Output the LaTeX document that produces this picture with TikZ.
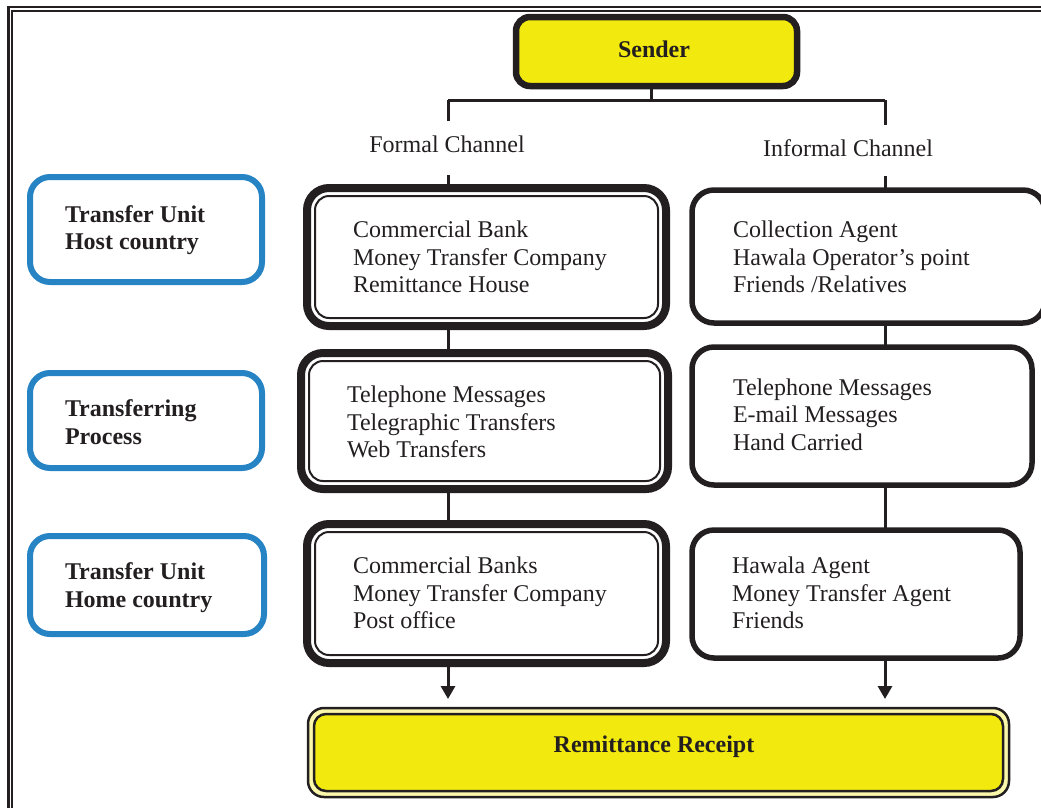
\documentclass[tikz,border=0pt]{standalone}
\usepackage{fontspec}
\setmainfont{Liberation Serif}
\usetikzlibrary{arrows.meta}
\definecolor{ink}{RGB}{35,31,32}
\definecolor{yel}{RGB}{242,233,14}
\definecolor{blu}{RGB}{38,131,196}
\begin{document}
\begin{tikzpicture}[x=1pt,y=-1pt,
  every node/.style={font=\fontsize{24}{27.5}\selectfont, text=ink, inner sep=0pt, outer sep=0pt},
  sbox/.style={draw=ink, fill=yel, line width=6.5pt, rounded corners=14pt},
  fouter/.style={draw=ink, line width=8pt, rounded corners=22pt},
  finner/.style={draw=ink, line width=2pt, rounded corners=14pt},
  ibox/.style={draw=ink, line width=5.5pt, rounded corners=22pt},
  bbox/.style={draw=blu, line width=6pt, rounded corners=20pt},
  router/.style={draw=ink, fill=yel!35!white, line width=2.5pt, rounded corners=16pt},
  rinner/.style={draw=ink, fill=yel, line width=2.5pt, rounded corners=12pt},
  txt/.style={align=left, anchor=west},
  btxt/.style={align=left, anchor=west, font=\fontsize{24}{27.5}\selectfont\bfseries},
  conn/.style={draw=ink, line width=3pt},
  arr/.style={conn, -{Triangle[width=14pt,length=13pt]}}]
\path[use as bounding box, clip] (0,0) rectangle (1041,807);

% page frame
\draw[ink, line width=2.5pt] (8.5,830) -- (8.5,7) -- (1060,7);
\draw[ink, line width=2pt] (12,830) -- (12,10.5) -- (1060,10.5);

% sender
\node[sbox, minimum width=281pt, minimum height=69pt] (sender) at (656.5,51.5) {};
\node[font=\fontsize{24}{27.5}\selectfont\bfseries] (slab) at (654,49) {Sender};

% junction coordinates
\coordinate (jn) at (651,100);
\coordinate (jl) at (448,100);
\coordinate (jr) at (885,100);
\coordinate (fl1) at (448,121);
\coordinate (fr1) at (885,125);
\coordinate (fl2) at (448,175);
\coordinate (fr2) at (885,176);

% channel labels
\node (fclab) at (447,144) {Formal Channel};
\node (iclab) at (848,148) {Informal Channel};

% formal boxes
\node[fouter, minimum width=359pt, minimum height=138pt] (f1) at (486.5,257) {};
\node[finner, minimum width=343pt, minimum height=122pt] (f1i) at (486.5,257) {};
\node[txt] (f1t) at (353,257) {Commercial Bank\\Money Transfer Company\\Remittance House};

\node[fouter, minimum width=367pt, minimum height=136pt] (f2) at (484.5,421) {};
\node[finner, minimum width=351pt, minimum height=120pt] (f2i) at (484.5,421) {};
\node[txt] (f2t) at (347,422) {Telephone Messages\\Telegraphic Transfers\\Web Transfers};

\node[fouter, minimum width=359pt, minimum height=139pt] (f3) at (486.5,593.5) {};
\node[finner, minimum width=343pt, minimum height=123pt] (f3i) at (486.5,593.5) {};
\node[txt] (f3t) at (353,593) {Commercial Banks\\Money Transfer Company\\Post office};

% informal boxes
\node[ibox, minimum width=353pt, minimum height=133pt] (i1) at (868.5,256.5) {};
\node[txt] (i1t) at (733,257) {Collection Agent\\Hawala Operator’s point\\Friends /Relatives};

\node[ibox, minimum width=340pt, minimum height=138pt] (i2) at (862,416) {};
\node[txt] (i2t) at (733,414.5) {Telephone Messages\\E-mail Messages\\Hand Carried};

\node[ibox, minimum width=328pt, minimum height=128pt] (i3) at (856,594) {};
\node[txt] (i3t) at (732,593) {Hawala Agent\\Money Transfer Agent\\Friends};

% blue label boxes
\node[bbox, minimum width=232pt, minimum height=105pt] (b1) at (146,229.5) {};
\node[btxt] (b1t) at (65,230) {Transfer Unit\\Host country};
\node[bbox, minimum width=232pt, minimum height=95pt] (b2) at (146,420.5) {};
\node[btxt] (b2t) at (65,422) {Transferring\\Process};
\node[bbox, minimum width=234pt, minimum height=98pt] (b3) at (147,585) {};
\node[btxt] (b3t) at (65,587.5) {Transfer Unit\\Home country};

% receipt
\node[router, minimum width=701pt, minimum height=89pt] (rc) at (658.5,752.5) {};
\node[rinner, minimum width=689pt, minimum height=77pt] (rci) at (658.5,752.5) {};
\node[font=\fontsize{24}{27.5}\selectfont\bfseries] (rlab) at (654,747) {Remittance Receipt};

% connectors
\draw[conn] (sender.south -| jn) -- (jn);
\draw[conn] (jl) -- (jr);
\draw[conn] (jl) -- (fl1);
\draw[conn] (jr) -- (fr1);
\draw[conn] (fl2) -- (f1.north -| fl2);
\draw[conn] (fr2) -- (i1.north -| fr2);
\draw[conn] (f1.south -| jl) -- (f2.north -| jl);
\draw[conn] (f2.south -| jl) -- (f3.north -| jl);
\draw[conn] (i1.south -| jr) -- (i2.north -| jr);
\draw[conn] (i2.south -| jr) -- (i3.north -| jr);
\draw[arr, shorten >=9pt] (f3.south -| jl) -- (rc.north -| jl);
\draw[arr, shorten >=9pt] (i3.south -| jr) -- (rc.north -| jr);
\end{tikzpicture}
\end{document}
